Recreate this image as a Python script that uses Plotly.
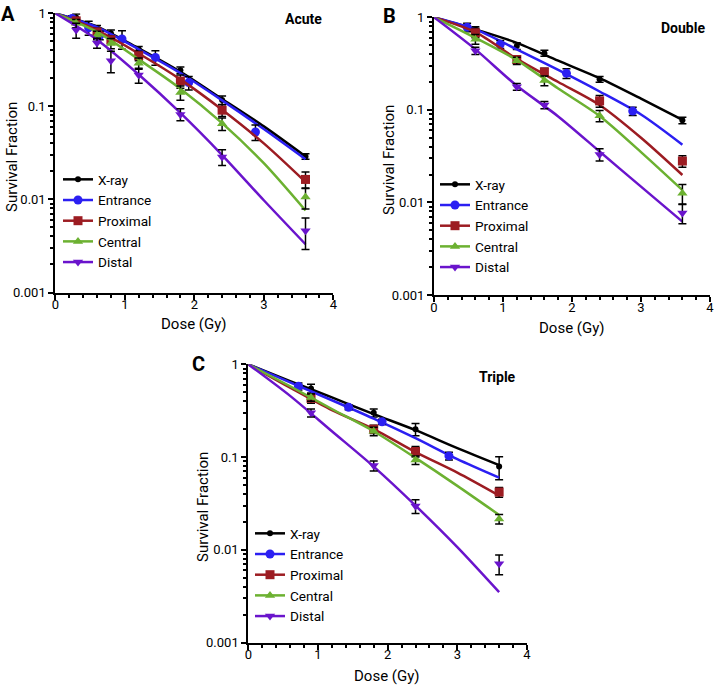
import plotly.graph_objects as go

# ---------------- data ----------------
series_names = ["X-ray", "Entrance", "Proximal", "Central", "Distal"]
colors = ["#000000", "#2b1ff2", "#9c1c22", "#6cb131", "#6a14cc"]
symbols = ["circle", "circle", "square", "triangle-up", "triangle-down"]
marker_sizes = [6, 9, 9, 9, 9]

curve_dose = [0, 0.6, 1.2, 1.8, 2.4, 3.0, 3.6]

# Panel A - Acute
a_dose = {
    "X-ray": [0.3, 0.6, 0.8, 1.2, 1.8, 2.4, 3.6],
    "Entrance": [0.24, 0.48, 0.64, 0.96, 1.44, 1.92, 2.88],
    "Proximal": [0.3, 0.6, 0.8, 1.2, 1.8, 2.4, 3.6],
    "Central": [0.3, 0.6, 0.8, 1.2, 1.8, 2.4, 3.6],
    "Distal": [0.3, 0.6, 0.8, 1.2, 1.8, 2.4, 3.6],
}
a_sf = {
    "X-ray": [0.90, 0.68, 0.61, 0.41, 0.245, 0.117, 0.029],
    "Entrance": [0.88, 0.70, 0.58, 0.53, 0.336, 0.18, 0.053],
    "Proximal": [0.83, 0.63, 0.52, 0.35, 0.187, 0.091, 0.0164],
    "Central": [0.78, 0.58, 0.475, 0.29, 0.141, 0.065, 0.0106],
    "Distal": [0.66, 0.48, 0.31, 0.217, 0.082, 0.0286, 0.0046],
}
a_err = {
    "X-ray": [0.08, 0.06, 0.05, 0.03, 0.02, 0.012, 0.002],
    "Entrance": [0.06, 0.12, 0.06, 0.12, 0.06, 0.03, 0.01],
    "Proximal": [0.06, 0.06, 0.05, 0.04, 0.03, 0.013, 0.0033],
    "Central": [0.08, 0.06, 0.06, 0.04, 0.025, 0.01, 0.0027],
    "Distal": [0.12, 0.06, 0.08, 0.04, 0.012, 0.0055, 0.0017],
}
a_curve = {
    "X-ray": [1, 0.72, 0.42, 0.235, 0.12, 0.061, 0.029],
    "Entrance": [1, 0.71, 0.41, 0.228, 0.116, 0.057, 0.027],
    "Proximal": [1, 0.66, 0.37, 0.195, 0.092, 0.040, 0.0154],
    "Central": [1, 0.63, 0.32, 0.155, 0.066, 0.0245, 0.0076],
    "Distal": [1, 0.52, 0.22, 0.085, 0.030, 0.0098, 0.0033],
}

# Panel B - Double
b_dose = {
    "X-ray": [0.6, 1.2, 1.6, 2.4, 3.6],
    "Entrance": [0.48, 0.96, 1.92, 2.88],
    "Proximal": [0.6, 1.2, 1.6, 2.4, 3.6],
    "Central": [0.6, 1.2, 1.6, 2.4, 3.6],
    "Distal": [0.6, 1.2, 1.6, 2.4, 3.6],
}
b_sf = {
    "X-ray": [0.74, 0.49, 0.41, 0.214, 0.077],
    "Entrance": [0.78, 0.51, 0.248, 0.097],
    "Proximal": [0.68, 0.35, 0.257, 0.125, 0.028],
    "Central": [0.58, 0.34, 0.207, 0.0865, 0.0126],
    "Distal": [0.436, 0.178, 0.113, 0.033, 0.0077],
}
b_err = {
    "X-ray": [0.05, 0.04, 0.03, 0.015, 0.006],
    "Entrance": [0.08, 0.05, 0.03, 0.01],
    "Proximal": [0.08, 0.03, 0.025, 0.018, 0.004],
    "Central": [0.07, 0.03, 0.025, 0.012, 0.003],
    "Distal": [0.04, 0.015, 0.01, 0.005, 0.0018],
}
b_curve = {
    "X-ray": [1, 0.74, 0.53, 0.34, 0.22, 0.132, 0.078],
    "Entrance": [1, 0.74, 0.45, 0.27, 0.158, 0.089, 0.042],
    "Proximal": [1, 0.69, 0.355, 0.2, 0.113, 0.050, 0.0198],
    "Central": [1, 0.60, 0.345, 0.17, 0.086, 0.035, 0.0136],
    "Distal": [1, 0.45, 0.182, 0.085, 0.0355, 0.0148, 0.0062],
}

# Panel C - Triple
c_dose = {
    "X-ray": [0.9, 1.8, 2.4, 3.6],
    "Entrance": [0.72, 1.44, 1.92, 2.88],
    "Proximal": [0.9, 1.8, 2.4, 3.6],
    "Central": [0.9, 1.8, 2.4, 3.6],
    "Distal": [0.9, 1.8, 2.4, 3.6],
}
c_sf = {
    "X-ray": [0.55, 0.30, 0.20, 0.079],
    "Entrance": [0.58, 0.344, 0.24, 0.103],
    "Proximal": [0.43, 0.20, 0.115, 0.042],
    "Central": [0.44, 0.19, 0.093, 0.0215],
    "Distal": [0.30, 0.081, 0.0297, 0.0071],
}
c_err = {
    "X-ray": [0.06, 0.03, 0.03, 0.022],
    "Entrance": [0.05, 0.02, 0.015, 0.01],
    "Proximal": [0.05, 0.02, 0.015, 0.005],
    "Central": [0.04, 0.02, 0.01, 0.0025],
    "Distal": [0.03, 0.01, 0.005, 0.0017],
}
c_curve = {
    "X-ray": [1, 0.66, 0.44, 0.29, 0.195, 0.125, 0.082],
    "Entrance": [1, 0.64, 0.41, 0.26, 0.16, 0.095, 0.06],
    "Proximal": [1, 0.56, 0.32, 0.20, 0.113, 0.068, 0.0385],
    "Central": [1, 0.58, 0.33, 0.19, 0.098, 0.049, 0.0238],
    "Distal": [1, 0.457, 0.19, 0.079, 0.030, 0.0107, 0.0035],
}

panel_letters = ["A", "B", "C"]
panel_titles = ["Acute", "Double", "Triple"]
y_tickvals = [0.001, 0.01, 0.1, 1]
y_ticktext = ["0.001", "0.01", "0.1", "1"]

FONT = "Roboto, Lato, Liberation Sans, sans-serif"

panels = [
    dict(dose=a_dose, sf=a_sf, err=a_err, curve=a_curve, xa="x", ya="y", legend="legend"),
    dict(dose=b_dose, sf=b_sf, err=b_err, curve=b_curve, xa="x2", ya="y2", legend="legend2"),
    dict(dose=c_dose, sf=c_sf, err=c_err, curve=c_curve, xa="x3", ya="y3", legend="legend3"),
]

fig = go.Figure()
for p in panels:
    for name, col, sym, ms in zip(series_names, colors, symbols, marker_sizes):
        fig.add_trace(go.Scatter(
            x=curve_dose, y=p["curve"][name], mode="lines",
            line=dict(color=col, width=2.5, shape="spline", smoothing=0.8),
            xaxis=p["xa"], yaxis=p["ya"], showlegend=False, cliponaxis=False,
            hoverinfo="skip"))
        fig.add_trace(go.Scatter(
            x=p["dose"][name], y=p["sf"][name], mode="markers",
            marker=dict(color=col, symbol=sym, size=ms),
            error_y=dict(type="data", array=p["err"][name], color="#000000",
                         thickness=1.5, width=4),
            xaxis=p["xa"], yaxis=p["ya"], showlegend=False, cliponaxis=False))
        fig.add_trace(go.Scatter(
            x=[None], y=[None], mode="lines+markers", name=name,
            line=dict(color=col, width=2.5),
            marker=dict(color=col, symbol=sym, size=ms),
            xaxis=p["xa"], yaxis=p["ya"], legend=p["legend"], showlegend=True))

W, H = 715, 686
# plot-area boxes in pixels: left, right, top, bottom
boxes = [(55.3, 333.3, 13.3, 292.5), (434.0, 710.0, 17.3, 295.0), (248.3, 527.0, 364.3, 642.7)]

minor_y = [m * 10 ** e for e in (-3, -2, -1) for m in range(2, 10)]

layout = dict(
    width=W, height=H,
    margin=dict(l=0, r=0, t=0, b=0, autoexpand=False),
    paper_bgcolor="white", plot_bgcolor="white",
    font=dict(family=FONT, color="#000000", size=13),
    showlegend=True,
)

for i, (l, r, t, b) in enumerate(boxes):
    sx = "" if i == 0 else str(i + 1)
    layout["xaxis" + sx] = dict(
        domain=[l / W, r / W], anchor="y" + sx, range=[0, 4], dtick=1, tick0=0,
        showgrid=False, zeroline=False, showline=True, linewidth=2, linecolor="#000",
        ticks="outside", ticklen=5, tickwidth=2, tickcolor="#000",
        minor=dict(ticks="outside", ticklen=3, tickwidth=1.5, dtick=0.2, tickcolor="#000"),
        tickfont=dict(size=13, family=FONT), automargin=False, ticklabelstandoff=-6,
    )
    layout["yaxis" + sx] = dict(
        domain=[1 - b / H, 1 - t / H], anchor="x" + sx, type="log", range=[-3, 0],
        tickvals=y_tickvals, ticktext=y_ticktext,
        showgrid=False, zeroline=False, showline=True, linewidth=2, linecolor="#000",
        ticks="outside", ticklen=5, tickwidth=2, tickcolor="#000",
        minor=dict(ticks="outside", ticklen=3, tickwidth=1.5, tickvals=minor_y, tickcolor="#000"),
        tickfont=dict(size=13, family=FONT), automargin=False,
    )

legend_pos = [(58, 164), (435, 169), (250, 518)]
for i, (lx, ly) in enumerate(legend_pos):
    key = "legend" if i == 0 else "legend" + str(i + 1)
    layout[key] = dict(x=lx / W, y=1 - ly / H, xanchor="left", yanchor="top",
                       bgcolor="rgba(0,0,0,0)", borderwidth=0,
                       font=dict(size=13.6, family=FONT), tracegroupgap=0,
                       itemwidth=30)

fig.update_layout(**layout)

letter_pos = [(8, 14), (390, 16), (198, 364)]
title_pos = [(324, 19), (707, 27.5), (518, 377)]
ytitle_pos = [(12, 157), (389, 160), (203, 507)]
xtitle_pos = [(194, 324), (572, 328.5), (387, 676)]
for (lx, ly), (tx, ty), (yx, yy), (xx, xy), L, T in zip(letter_pos, title_pos, ytitle_pos,
                                                       xtitle_pos, panel_letters, panel_titles):
    fig.add_annotation(x=lx / W, y=1 - ly / H, xref="paper", yref="paper",
                       text="<b>" + L + "</b>", showarrow=False,
                       font=dict(size=20, family=FONT), xanchor="center", yanchor="middle")
    fig.add_annotation(x=tx / W, y=1 - ty / H, xref="paper", yref="paper",
                       text="<b>" + T + "</b>", showarrow=False,
                       font=dict(size=14, family=FONT), xanchor="right", yanchor="middle")
    fig.add_annotation(x=yx / W, y=1 - yy / H, xref="paper", yref="paper",
                       text="Survival Fraction", showarrow=False, textangle=-90,
                       font=dict(size=15, family=FONT), xanchor="center", yanchor="middle")
    fig.add_annotation(x=xx / W, y=1 - xy / H, xref="paper", yref="paper",
                       text="Dose (Gy)", showarrow=False,
                       font=dict(size=15, family=FONT), xanchor="center", yanchor="middle")

fig.write_html("out.html", config={"displayModeBar": False},
               post_script="document.body.style.margin='0';document.body.style.overflow='hidden';")
